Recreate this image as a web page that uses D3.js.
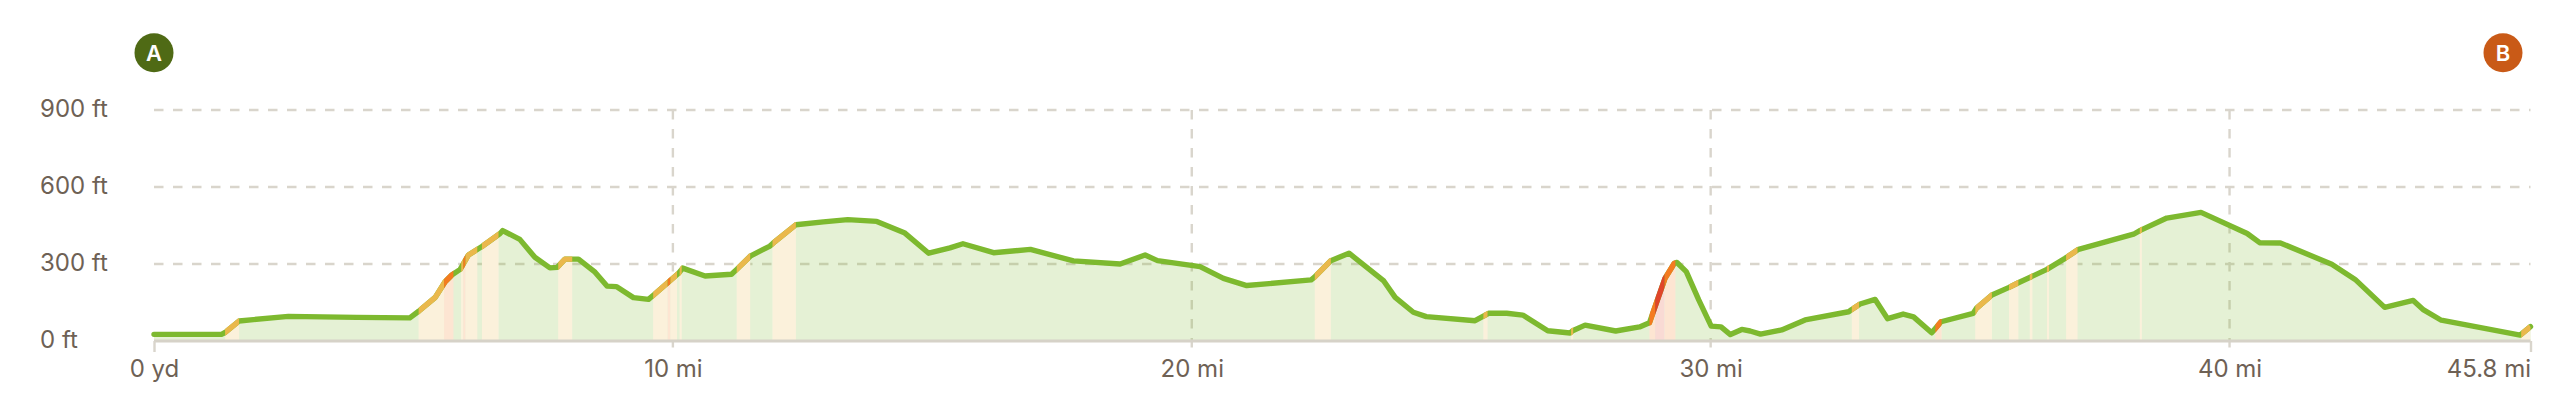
<!DOCTYPE html>
<html>
<head>
<meta charset="utf-8">
<script src="https://cdn.jsdelivr.net/npm/d3@7/dist/d3.min.js"></script>
<style>
html,body{margin:0;padding:0;background:#fff;}
svg{display:block;}
text{font-family:Inter,"Noto Sans",sans-serif;}
</style>
</head>
<body>
<svg id="chart" width="2560" height="414"></svg>
<script>
const miles = [0,1.30,1.37,1.64,2.59,3.91,4.93,5.10,5.42,5.61,5.74,5.90,6.06,6.32,6.67,6.72,7.05,7.34,7.63,7.77,7.92,8.18,8.50,8.73,8.91,9.24,9.53,9.64,10.11,10.19,10.62,11.13,11.23,11.50,11.87,11.93,12.37,12.90,13.37,13.93,14.46,14.93,15.34,15.59,16.18,16.89,17.72,18.62,19.10,19.34,20.16,20.61,21.06,22.30,22.36,22.68,23.03,23.70,23.92,24.27,24.52,25.46,25.62,25.72,26.07,26.38,26.86,27.29,27.34,27.58,28.17,28.63,28.82,29.12,29.30,29.35,29.53,29.77,30.01,30.20,30.38,30.60,30.76,30.96,31.37,31.82,32.66,32.72,32.88,33.17,33.41,33.71,33.91,34.26,34.44,35.06,35.12,35.42,35.74,35.93,36.48,36.83,37.09,38.15,38.28,38.79,39.45,40.34,40.58,40.98,41.97,42.42,42.99,43.54,43.74,44.08,45.60,45.80];
const feet  = [26,26,33,78,96,92,90,116,170,231,257,279,335,368,419,430,396,326,285,287,319,319,268,214,212,169,162,181,264,284,253,260,279,332,370,381,453,464,473,466,422,342,363,379,344,357,312,300,335,313,290,244,216,238,248,313,342,234,170,112,95,79,97,108,108,101,40,31,40,62,39,55,71,244,303,306,270,160,58,55,25,45,39,27,43,82,114,123,144,162,87,105,94,32,75,108,127,179,208,227,279,322,357,416,431,479,501,419,383,382,299,240,131,158,121,81,23,56];

const amberStart = [1.37,5.10,5.92,6.00,6.32,7.79,9.62,9.95,10.13,11.23,11.92,22.37,25.62,27.31,32.72,35.10,35.75,36.15,36.48,36.85,38.27,45.62];
const amberEnd   = [1.64,5.59,5.96,6.23,6.64,8.06,9.90,10.08,10.17,11.49,12.37,22.68,25.70,27.35,32.86,35.42,35.93,36.20,36.52,37.07,38.31,45.80];
const orangeStart = [5.59,5.96,9.90,28.82,29.11,34.33];
const orangeEnd   = [5.77,6.00,9.95,28.93,29.32,34.45];
const redStart = [28.93];
const redEnd   = [29.11];

const xTickValues = [0,10,20,30,40,45.8];
const xTickLabels = ["0 yd","10 mi","20 mi","30 mi","40 mi","45.8 mi"];
const yTickValues = [0,300,600,900];
const yTickLabels = ["0 ft","300 ft","600 ft","900 ft"];
const markerLabels = ["A","B"];

const GREEN="#7db92f", AMBER="#eab84c", ORANGE="#f47b20", RED="#e0452a";
const GRID="#d9d5cc", TEXT="#6e6155";

const svg = d3.select("#chart");
const x = d3.scaleLinear().domain([0,45.8]).range([154,2530.5]);
const y = d3.scaleLinear().domain([0,900]).range([341,110]);
const pts = miles.map((m,i)=>[m,feet[i]]);
const line = d3.line().x(d=>x(d[0])).y(d=>y(d[1]));
const area = d3.area().x(d=>x(d[0])).y0(y(0)).y1(d=>y(d[1]));

// grid
svg.append("g").selectAll("line").data(yTickValues.slice(1)).join("line")
  .attr("x1",x(0)).attr("x2",x(45.8)).attr("y1",d=>y(d)).attr("y2",d=>y(d))
  .attr("stroke",GRID).attr("stroke-width",2.4).attr("stroke-dasharray","9.5 9.5");
svg.append("g").selectAll("line").data(xTickValues.slice(1,-1)).join("line")
  .attr("x1",d=>x(d)).attr("x2",d=>x(d)).attr("y1",y(900)).attr("y2",352)
  .attr("stroke",GRID).attr("stroke-width",2.4).attr("stroke-dasharray","9.5 9.5");

// bands
const defs = svg.append("defs");
const classes = [
  {id:"amber",color:AMBER,s:amberStart,e:amberEnd},
  {id:"orange",color:ORANGE,s:orangeStart,e:orangeEnd},
  {id:"red",color:RED,s:redStart,e:redEnd}
];
classes.forEach(c=>{
  defs.append("clipPath").attr("id","clip-"+c.id).selectAll("rect").data(c.s).join("rect")
    .attr("x",d=>x(d)).attr("width",(d,i)=>x(c.e[i])-x(d)).attr("y",0).attr("height",414);
});
svg.append("path").attr("d",area(pts)).attr("fill",GREEN).attr("fill-opacity",0.2);
classes.forEach(c=>{
  const g = svg.append("g").attr("clip-path",`url(#clip-${c.id})`);
  g.append("path").attr("d",area(pts)).attr("fill","#fff");
  g.append("path").attr("d",area(pts)).attr("fill",c.color).attr("fill-opacity",0.2);
});

// axes
const xAxis = d3.axisBottom(x).tickValues(xTickValues).tickSize(11).tickPadding(8)
  .tickFormat((d,i)=>xTickLabels[i]);
const gx = svg.append("g").attr("transform",`translate(0,${y(0)})`).call(xAxis);
gx.select(".domain").attr("stroke","#d6d2c8").attr("stroke-width",3).attr("d",`M${x(0)},0H${x(45.8)}`);
gx.selectAll(".tick line").attr("stroke",GRID).attr("stroke-width",2.4)
  .attr("opacity",d=>(d===0||d===45.8)?1:0);
gx.selectAll("text").attr("font-size",24).attr("fill",TEXT);
gx.selectAll(".tick").filter(d=>d===45.8).select("text").attr("text-anchor","end");

const yAxis = d3.axisLeft(y).tickValues(yTickValues).tickSize(0).tickFormat((d,i)=>yTickLabels[i]);
const gy = svg.append("g").call(yAxis);
gy.select(".domain").remove();
gy.selectAll("text").attr("x",40).attr("text-anchor","start").attr("dy","0.28em")
  .attr("font-size",24).attr("fill",TEXT);

// line
svg.append("path").attr("d",line(pts)).attr("fill","none").attr("stroke",GREEN).attr("stroke-width",5.4)
  .attr("stroke-linejoin","round").attr("stroke-linecap","round");
classes.forEach(c=>{
  svg.append("g").attr("clip-path",`url(#clip-${c.id})`).append("path").attr("d",line(pts))
    .attr("fill","none").attr("stroke",c.color).attr("stroke-width",5.4).attr("stroke-linejoin","round");
});

// markers
const markerMiles = [0,45.27];
const markerColors = ["#4f6a15","#c95a17"];
const mg = svg.append("g").selectAll("g").data(markerLabels).join("g")
  .attr("transform",(d,i)=>`translate(${x(markerMiles[i])},52.7)`);
mg.append("circle").attr("r",19.5).attr("fill",(d,i)=>markerColors[i]);
mg.append("text").text(d=>d).attr("text-anchor","middle").attr("dy","0.36em")
  .attr("font-size",22).attr("font-weight",600).attr("fill","#fff");
</script>
</body>
</html>
